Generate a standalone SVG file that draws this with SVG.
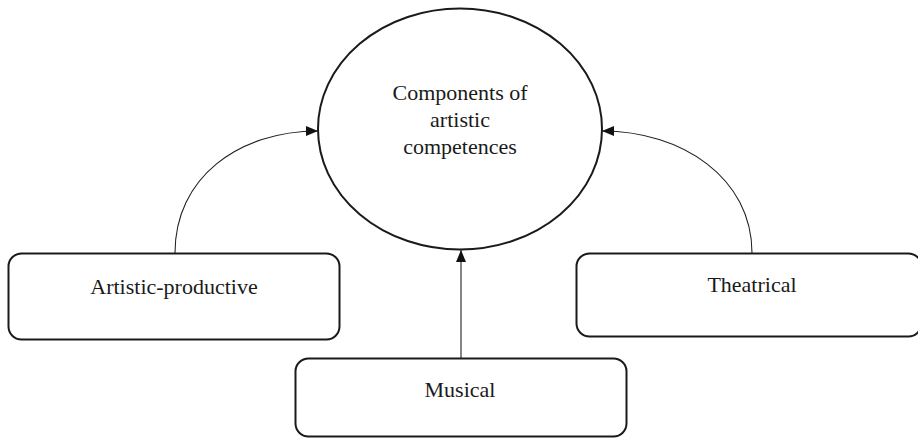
<svg xmlns="http://www.w3.org/2000/svg" width="918" height="438" viewBox="0 0 918 438">
<style>
.node{fill:#fff;stroke:#1a1a1a;stroke-width:2}
.lbl{font-family:"Liberation Serif","Times New Roman",serif;font-size:22px;fill:#1a1a1a;text-anchor:middle}
.conn{fill:none;stroke:#222;stroke-width:1.1}
</style>
<defs>
<marker id="ah" viewBox="0 0 12 10" refX="12" refY="5" markerWidth="12" markerHeight="10" markerUnits="userSpaceOnUse" orient="auto">
<path d="M0,0 L12,5 L0,10 Z" fill="#111"/>
</marker>
</defs>
<rect width="918" height="438" fill="#fff"/>
<g id="connectors">
<path class="conn" d="M175,253 C175,178 238,131 318,131" marker-end="url(#ah)"/>
<path class="conn" d="M752,253 C752,178 682,131 602,131" marker-end="url(#ah)"/>
<path class="conn" d="M461,358 L461,250" marker-end="url(#ah)"/>
</g>
<g id="center">
<ellipse class="node" cx="460" cy="129" rx="142" ry="120.5"/>
<text class="lbl" x="460" y="100">Components of</text>
<text class="lbl" x="460" y="127">artistic</text>
<text class="lbl" x="460" y="154">competences</text>
</g>
<g id="artistic-productive">
<rect class="node" x="8.5" y="253.5" width="331" height="86" rx="13"/>
<text class="lbl" x="174" y="294">Artistic-productive</text>
</g>
<g id="theatrical">
<rect class="node" x="576.5" y="253.5" width="345" height="83" rx="13"/>
<text class="lbl" x="752" y="292">Theatrical</text>
</g>
<g id="musical">
<rect class="node" x="295.5" y="358.5" width="331" height="78" rx="13"/>
<text class="lbl" x="460" y="397">Musical</text>
</g>
</svg>
